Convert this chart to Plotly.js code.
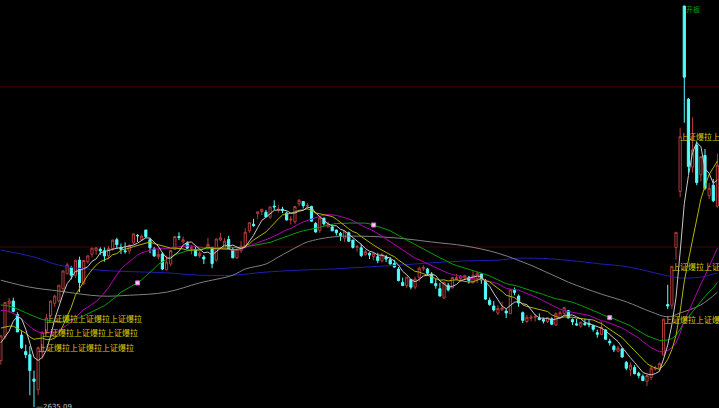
<!DOCTYPE html>
<html><head><meta charset="utf-8">
<script src="https://cdn.plot.ly/plotly-3.0.1.min.js"></script>
<style>html,body{margin:0;padding:0;background:#000;overflow:hidden}#c{width:719px;height:408px}</style>
</head><body><div id="c"></div>
<script>
// Daily candles (index 0 = first visible session)
const opens = [2756,2818,2903,2910,2875,2822,2779,2771,2708,2680,
2778,2832,2873,2904,2910,2942,2981,2996,2977,3016,
2955,3012,3031,3041,3044,3040,3027,3046,3069,3049,
3040,3040,3061,3080,3069,3094,3069,3045,3025,3032,
2991,3006,3044,3077,3063,3059,3046,3043,3028,3024,
3046,3049,3016,3068,3050,3070,3044,3022,3040,3053,
3092,3109,3137,3142,3140,3127,3156,3146,3148,3138,
3120,3115,3162,3168,3156,3155,3111,3093,3125,3102,
3102,3094,3085,3073,3087,3068,3049,3048,3030,3034,
3025,3025,3014,3024,3017,3007,2993,2958,2950,2966,
2946,2971,2994,2993,2980,2955,2942,2918,2951,2944,
2966,2968,2970,2972,2957,2968,2980,2961,2912,2897,
2879,2888,2884,2877,2939,2923,2880,2857,2865,2868,
2866,2862,2857,2864,2848,2867,2878,2885,2862,2851,
2845,2852,2852,2846,2828,2823,2835,2806,2793,2780,
2786,2751,2732,2738,2723,2715,2702,2712,2734,2737,
2770,2901,2899,3049,3194,3674.4,3433,3257,3314,3237,
3287,3183,3210,3156];
const highs = [2821,2907,2918,2919,2881,2832,2797,2793,2730,2792,
2831,2877,2911,2926,2951,2989,3009,3001,3016,3025,
3015,3029,3048,3048,3049,3049,3053,3069,3074,3059,
3062,3057,3085,3084,3082,3094,3074,3050,3044,3037,
3028,3042,3077,3088,3077,3065,3055,3050,3039,3029,
3074,3050,3071,3087,3073,3079,3050,3045,3066,3099,
3114,3123,3141,3148,3146,3154,3171,3158,3154,3142,
3130,3155,3174.27,3169,3164,3157,3115,3128,3125,3116,
3109,3095,3089,3092,3090,3068,3055,3058,3042,3036,
3036,3035,3034,3029,3024,3017,2998,2971,2972,2967,
2973,2999,3003,2996,2985,2967,2957,2960,2957,2972,
2980,2977,2978,2975,2990,2986,2982,2967,2919,2910,
2899,2908,2890,2940,2945,2927,2883,2874,2875,2876,
2878,2867,2868,2868,2881,2885,2895,2887,2865,2864,
2857,2864,2861,2849,2836,2857,2837,2812,2797,2794,
2789,2755,2751,2744,2727,2720,2718,2745,2742,2751,
2864,2952,3001,3088,3359,3674.4,3436,3386,3324,3285,
3304,3216,3226,3292];
const lows = [2745,2811,2880,2881,2830,2786,2762,2666,2635.09,2666,
2761,2826,2868,2895,2906,2932,2979,2966,2970,2933,
2952,3007,3023,3030,3030,3012,3018,3041,3045,3032,
3033,3032,3058,3063,3066,3073,3034,3024,3018,2990,
2989,3000,3043,3068,3059,3045,3031,3027,3022,3006,
3043,2995,3012,3066,3050,3044,3021,3019,3035,3047,
3087,3103,3123,3133,3128,3124,3146,3139,3138,3119,
3108,3110,3155,3150,3148,3116,3087,3087,3105,3100,
3091,3080,3066,3063,3064,3046,3038,3024,3028,3019,
3015,3008,3010,3011,3005,2997,2961,2949,2944,2940,
2940,2961,2988,2976,2957,2942,2922,2916,2935,2943,
2964,2960,2965,2955,2957,2956,2955,2913,2898,2883,
2874,2884,2866,2877,2925,2895,2853,2853,2858,2857,
2860,2852,2853,2849,2845,2866,2873,2865,2848,2846,
2841,2846,2842,2831,2815,2823,2810,2795,2778,2777,
2764,2731,2715,2720,2710,2703,2689.7,2706,2730,2729,
2770,2889,2889,3017,3179,3372,3241,3243,3210,3220,
3197,3174,3166,3152];
const closes = [2820,2906,2910,2883,2830,2789,2771,2730,2702,2789,
2829,2866,2910,2923,2951,2988,3004,2977,3016,2958,
3015,3027,3047,3048,3040,3027,3046,3068,3056,3044,
3038,3054,3084,3079,3078,3077,3048,3027,3031,2993,
3011,3041,3077,3075,3069,3047,3048,3027,3034,3019,
3057,3007,3071,3074,3065,3045,3022,3044,3052,3088,
3113,3105,3141,3148,3128,3154,3154,3148,3145,3120,
3122,3155,3171,3157,3158,3117,3089,3125,3110,3111,
3092,3087,3079,3091,3065,3049,3051,3028,3038,3029,
3033,3015,3030,3019,3006,2998,2963,2950,2972,2946,
2967,2995,2997,2982,2957,2950,2923,2959,2939,2971,
2971,2975,2976,2963,2977,2982,2965,2915,2901,2887,
2891,2892,2879,2939,2932,2905,2860,2868,2869,2870,
2862,2858,2867,2850,2877,2880,2893,2866,2856,2848,
2855,2849,2849,2837,2824,2842,2811,2802,2784,2788,
2765,2736,2744,2722,2717,2704,2717,2736,2736,2748,
2863,2897,3000,3088,3336,3490,3259,3302,3217,3284,
3202,3202,3170,3262];

// Moving-average lines
const ma5 = [2802,2817,2832,2858,2870,2864,2837,2801,2764,2756,
2764,2783,2819,2863,2896,2928,2955,2969,2987,2989,
2994,2999,3013,3019,3035,3038,3042,3046,3047,3048,
3050,3052,3055,3060,3067,3074,3073,3062,3052,3035,
3022,3021,3031,3039,3055,3062,3063,3053,3045,3035,
3037,3029,3038,3046,3055,3052,3055,3050,3046,3050,
3064,3080,3100,3119,3127,3135,3145,3146,3146,3144,
3138,3138,3143,3145,3153,3152,3138,3129,3120,3110,
3105,3105,3096,3092,3083,3074,3067,3057,3046,3039,
3036,3029,3029,3025,3021,3014,3003,2987,2978,2966,
2960,2966,2975,2977,2980,2976,2962,2954,2946,2948,
2953,2963,2966,2971,2972,2975,2973,2960,2948,2930,
2912,2897,2890,2898,2907,2909,2903,2901,2887,2874,
2866,2865,2865,2861,2863,2866,2873,2873,2874,2869,
2864,2855,2851,2848,2843,2840,2833,2823,2813,2805,
2790,2775,2763,2751,2737,2725,2721,2719,2722,2728,
2760,2796,2849,2919,3037,3162,3235,3295,3321,3310,
3253,3241,3215,3224];
const ma10 = [2840,2843,2845,2845,2839,2833,2827,2817,2811,2813,
2814,2810,2810,2814,2826,2846,2869,2894,2925,2943,
2961,2977,2991,3003,3012,3016,3021,3030,3033,3042,
3044,3047,3051,3054,3058,3062,3063,3059,3056,3051,
3048,3047,3047,3046,3045,3042,3042,3042,3042,3045,
3050,3046,3046,3046,3045,3045,3042,3044,3046,3053,
3058,3068,3075,3083,3089,3100,3113,3123,3133,3136,
3137,3142,3145,3146,3149,3145,3138,3136,3133,3132,
3129,3122,3113,3106,3097,3090,3086,3077,3069,3061,
3055,3048,3043,3036,3030,3025,3016,3008,3002,2994,
2987,2985,2981,2978,2973,2968,2964,2965,2962,2964,
2965,2963,2960,2959,2960,2964,2968,2963,2960,2951,
2944,2935,2925,2923,2919,2911,2900,2896,2893,2891,
2888,2884,2883,2874,2869,2866,2869,2869,2868,2866,
2865,2864,2862,2861,2856,2852,2844,2837,2831,2824,
2815,2804,2793,2782,2771,2758,2748,2741,2737,2733,
2743,2759,2784,2821,2883,2961,3016,3072,3120,3174,
3208,3238,3255,3273];
const ma20 = [2886,2886,2883,2879,2873,2863,2854,2845,2835,2830,
2827,2827,2828,2830,2833,2840,2848,2856,2868,2878,
2888,2894,2901,2909,2919,2931,2945,2962,2979,2993,
3003,3012,3021,3029,3035,3039,3042,3045,3045,3047,
3046,3047,3049,3050,3052,3052,3053,3051,3049,3048,
3049,3047,3047,3046,3045,3044,3042,3043,3044,3049,
3054,3057,3061,3065,3067,3073,3078,3084,3090,3095,
3098,3105,3110,3115,3119,3123,3126,3130,3133,3134,
3133,3132,3129,3126,3123,3118,3112,3107,3101,3097,
3092,3085,3078,3071,3064,3058,3051,3043,3036,3028,
3021,3017,3012,3007,3002,2997,2990,2987,2982,2979,
2976,2974,2971,2969,2967,2966,2966,2964,2961,2958,
2955,2949,2943,2941,2940,2938,2934,2930,2927,2921,
2916,2910,2904,2899,2894,2889,2885,2883,2881,2879,
2877,2874,2873,2868,2863,2859,2857,2853,2850,2845,
2840,2834,2828,2822,2814,2805,2796,2789,2784,2779,
2779,2782,2789,2802,2827,2860,2882,2907,2929,2954,
2976,2999,3020,3047];
const ma30 = [2900,2899,2897,2894,2890,2885,2880,2875,2870,2866,
2862,2861,2859,2857,2857,2857,2859,2861,2865,2867,
2872,2877,2882,2887,2892,2898,2906,2914,2923,2933,
2940,2945,2951,2957,2965,2975,2984,2994,3005,3012,
3018,3024,3030,3034,3038,3040,3042,3044,3044,3046,
3047,3047,3048,3049,3049,3050,3049,3048,3048,3050,
3052,3054,3056,3058,3060,3062,3066,3070,3074,3078,
3082,3085,3089,3092,3094,3097,3098,3101,3104,3107,
3108,3111,3111,3112,3112,3112,3112,3112,3112,3110,
3107,3104,3100,3096,3092,3087,3080,3074,3068,3062,
3057,3052,3046,3040,3033,3028,3022,3017,3011,3006,
3002,2999,2995,2991,2988,2986,2983,2979,2975,2970,
2965,2961,2955,2953,2951,2948,2944,2941,2938,2935,
2932,2927,2923,2919,2916,2914,2912,2909,2907,2903,
2899,2894,2890,2886,2881,2876,2871,2867,2864,2860,
2856,2851,2846,2839,2832,2825,2820,2816,2812,2808,
2808,2809,2813,2821,2837,2857,2869,2883,2896,2910,
2922,2934,2944,2959];
const ma60Idx = [0,7,14,24,31,40,48,56,59,64,67,72,74,80,87,96,104,112,120,129,137,145,151,157,161,164,169,173];
const ma60Val = [2964,2946,2936,2923,2925,2933,2957,2977,2993,3006,3024,3053,3063,3076,3078,3073,3063,3053,3034,2998,2959,2928,2908,2882,2869,2879,2900,2933];
const maLongIdx = [0,8,14,24,40,48,56,64,72,80,88,96,104,112,120,125,133,141,145,150,154,159,164,169,173];
const maLongVal = [3042,3024,3003,2990,2983,2977,2977,2985,2990,2993,2998,3003,3009,3014,3016,3021,3019,3011,3006,3001,2993,2980,2970,2972,2983];

// Signal squares on the 30-day line
const markIdx = [33,90,147];
const markVal = [2957,3107,2867];

// Text labels
const labelIdx = [9,10,11,160,162,164];
const labelText = '上证爆拉上证爆拉上证爆拉';
const lowIdx = 8, lowText = '—2635.09';
const topIdx = 165, topText = '开板';
const refLines = [3050, 3465];

const idx = closes.map((_, i) => i);

const traces = [
  {type:'candlestick', x: idx, open: opens, high: highs, low: lows, close: closes,
   increasing:{line:{color:'#b43c3c', width:1}, fillcolor:'#000000'},
   decreasing:{line:{color:'#54fcfc', width:1}, fillcolor:'#54fcfc'},
   whiskerwidth:0, hoverinfo:'skip'},
  {type:'scatter', mode:'lines', x: maLongIdx, y: maLongVal, line:{color:'#1e1eb4', width:1, shape:'spline'}, hoverinfo:'skip'},
  {type:'scatter', mode:'lines', x: ma60Idx, y: ma60Val, line:{color:'#808080', width:1, shape:'spline'}, hoverinfo:'skip'},
  {type:'scatter', mode:'lines', x: idx, y: ma30, line:{color:'#00a000', width:1}, hoverinfo:'skip'},
  {type:'scatter', mode:'lines', x: idx, y: ma20, line:{color:'#b400b4', width:1}, hoverinfo:'skip'},
  {type:'scatter', mode:'lines', x: idx, y: ma10, line:{color:'#b4b400', width:1}, hoverinfo:'skip'},
  {type:'scatter', mode:'lines', x: idx, y: ma5, line:{color:'#c8c8c8', width:1}, hoverinfo:'skip'},
  {type:'scatter', mode:'markers', x: markIdx, y: markVal,
   marker:{symbol:'square', size:4, color:'#ffc8ff', line:{color:'#ff50ff', width:1}}, hoverinfo:'skip'}
];

const annotations = labelIdx.map(i => ({
  x: i, y: closes[i], xref:'x', yref:'y', text: labelText, showarrow:false,
  xanchor:'left', yanchor:'middle', xshift:-2,
  font:{family:'Noto Sans CJK SC', size:8, color:'#d2d200'}
}));
annotations.push({x: lowIdx, y: lows[lowIdx], xref:'x', yref:'y', text: lowText, showarrow:false,
  xanchor:'left', yanchor:'middle', xshift:0, font:{family:'DejaVu Sans', size:7, color:'#c0c0c0'}});
annotations.push({x: topIdx, y: highs[topIdx], xref:'x', yref:'y', text: topText, showarrow:false,
  xanchor:'left', yanchor:'middle', xshift:0, yshift:-3, font:{family:'Noto Sans CJK SC', size:7, color:'#00a000'}});

const layout = {
  width:719, height:408, margin:{l:0,r:0,t:0,b:0,pad:0},
  paper_bgcolor:'#000000', plot_bgcolor:'#000000', showlegend:false,
  boxgap:0.25, hovermode:false,
  xaxis:{range:[-0.2076,173.38], visible:false, showgrid:false, zeroline:false, rangeslider:{visible:false}, fixedrange:true},
  yaxis:{range:[2632.95,3689.9], visible:false, showgrid:false, zeroline:false, fixedrange:true},
  shapes: refLines.map(v => ({type:'line', xref:'paper', x0:0, x1:1, yref:'y', y0:v, y1:v,
    line:{color:'#4a0000', width:1}, layer:'below'})),
  annotations: annotations
};
Plotly.newPlot('c', traces, layout, {staticPlot:true, displayModeBar:false});
</script>
</body></html>
